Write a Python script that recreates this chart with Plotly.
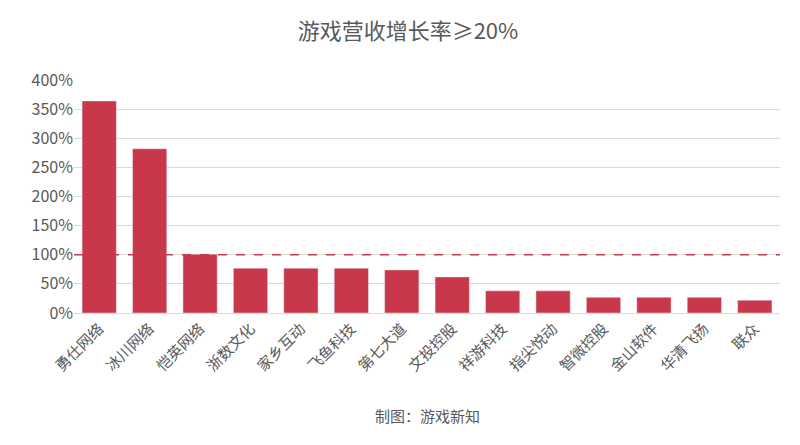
import plotly.graph_objects as go

categories = ["勇仕网络","冰川网络","恺英网络","浙数文化","家乡互动","飞鱼科技","第七大道","文投控股","祥游科技","指尖悦动","智微控股","金山软件","华清飞扬","联众"]
growth = [3.64,2.82,1.01,0.77,0.77,0.77,0.74,0.62,0.38,0.38,0.27,0.27,0.27,0.22]
threshold = 1.0

fig = go.Figure(go.Bar(x=categories, y=growth, marker_color="#C9384A", width=0.68))
fig.add_hline(y=threshold, line=dict(color="#C9384A", width=1.5, dash="dash"))
fig.update_layout(
    width=800, height=445, plot_bgcolor="white", paper_bgcolor="white",
    font=dict(family="Noto Sans CJK SC", color="#595959", size=15),
    title=dict(text="游戏营收增长率≥20%", x=0.5, y=0.965, xanchor="center", font=dict(size=22, color="#595959")),
    margin=dict(l=66, r=28, t=72, b=140),
    showlegend=False,
    xaxis=dict(tickangle=-45, showline=True, linecolor="#D9D9D9", ticks=""),
    yaxis=dict(range=[0,4.0], tickvals=[0,0.5,1,1.5,2,2.5,3,3.5,4], tickformat=".0%",
               gridcolor="#D9D9D9", zeroline=False, tickfont=dict(size=16)),
    annotations=[dict(text="制图：游戏新知", x=0.5, y=-0.495, xref="paper", yref="paper", showarrow=False, font=dict(size=15, color="#595959"))]
)
fig.write_html("out.html")
